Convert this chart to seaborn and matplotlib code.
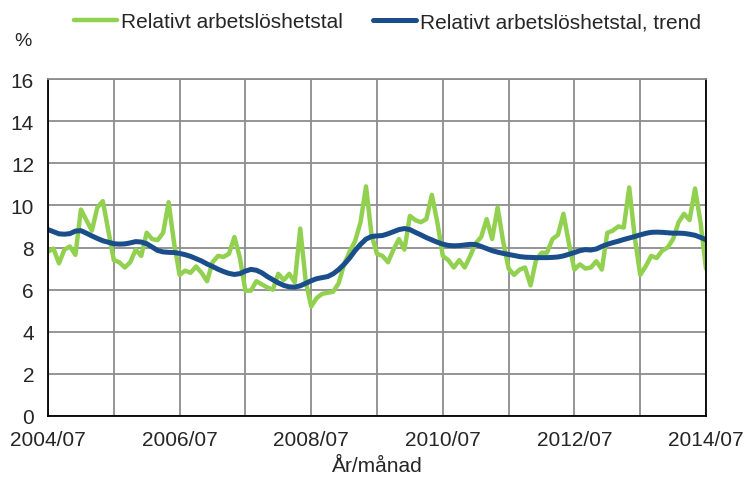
import numpy as np
import pandas as pd
import matplotlib
matplotlib.use("Agg")
from matplotlib import pyplot as plt
import seaborn as sns

# monthly unemployment rate, 2004/07 .. 2014/07 (one row per year)
rate = [7.8, 7.95, 7.25, 7.9, 8.05, 7.65, 9.8, 9.3, 8.8, 9.9, 10.2, 8.8,
        7.4, 7.3, 7.05, 7.3, 7.9, 7.6, 8.7, 8.4, 8.35, 8.7, 10.15, 8.2,
        6.7, 6.9, 6.8, 7.1, 6.8, 6.4, 7.3, 7.6, 7.55, 7.7, 8.5, 7.5,
        5.95, 5.95, 6.4, 6.25, 6.1, 6.0, 6.75, 6.45, 6.75, 6.35, 8.9, 6.4,
        5.2, 5.6, 5.8, 5.85, 5.9, 6.3, 7.2, 7.8, 8.3, 9.2, 10.9, 8.6,
        7.7, 7.6, 7.3, 7.9, 8.4, 7.9, 9.5, 9.3, 9.2, 9.35, 10.5, 9.2,
        7.6, 7.4, 7.05, 7.4, 7.05, 7.6, 8.2, 8.5, 9.35, 8.4, 9.9, 8.3,
        7.0, 6.7, 6.95, 7.05, 6.2, 7.4, 7.75, 7.75, 8.4, 8.6, 9.6, 8.2,
        6.95, 7.2, 7.0, 7.05, 7.35, 6.95, 8.7, 8.8, 9.0, 8.95, 10.85, 8.5,
        6.7, 7.1, 7.6, 7.5, 7.85, 8.0, 8.4, 9.2, 9.6, 9.3, 10.8, 9.2,
        7.0]

trend = [8.85, 8.75, 8.65, 8.63, 8.66, 8.78, 8.8, 8.68, 8.55, 8.43, 8.32, 8.25,
         8.18, 8.16, 8.17, 8.22, 8.28, 8.26, 8.18, 8.02, 7.86, 7.79, 7.77, 7.76,
         7.72, 7.66, 7.58, 7.47, 7.36, 7.22, 7.1, 6.97, 6.86, 6.77, 6.72, 6.76,
         6.88, 6.96, 6.92, 6.8, 6.62, 6.47, 6.32, 6.2, 6.13, 6.12, 6.18, 6.3,
         6.42, 6.52, 6.57, 6.62, 6.75, 6.95, 7.2, 7.5, 7.85, 8.15, 8.4, 8.52,
         8.55, 8.57, 8.65, 8.75, 8.85, 8.9, 8.85, 8.72, 8.6, 8.47, 8.36, 8.25,
         8.16, 8.1, 8.08, 8.09, 8.12, 8.15, 8.14, 8.05, 7.95, 7.85, 7.78, 7.72,
         7.67, 7.62, 7.57, 7.54, 7.53, 7.52, 7.52, 7.52, 7.53, 7.55, 7.6, 7.68,
         7.76, 7.85, 7.9, 7.88, 7.93, 8.05, 8.15, 8.23, 8.3, 8.38, 8.45, 8.52,
         8.6, 8.67, 8.72, 8.73, 8.72, 8.7, 8.68, 8.68, 8.67, 8.63, 8.58, 8.48,
         8.37]

x_labels = ['2004/07', '', '2006/07', '', '2008/07', '', '2010/07', '',
            '2012/07', '', '2014/07']
y_ticks = [0, 2, 4, 6, 8, 10, 12, 14, 16]

GREEN = '#92d050'
BLUE = '#1a4e8a'
GRID = '#8c8c8c'

sns.set_style('white')
plt.rcParams['font.family'] = ['Liberation Sans', 'DejaVu Sans']

df = pd.DataFrame({'month': np.arange(len(rate)), 'rate': rate, 'trend': trend})

fig = plt.figure(figsize=(7.45, 4.85), dpi=100)
ax = fig.add_axes([48/745, 68/485, 658/745, 337/485])

sns.lineplot(data=df, x='month', y='rate', color=GREEN, lw=3.2, ax=ax,
             label='Relativt arbetslöshetstal')
sns.lineplot(data=df, x='month', y='trend', color=BLUE, lw=3.6, ax=ax,
             label='Relativt arbetslöshetstal, trend')

ax.set_xlim(0, 120)
ax.set_ylim(0, 16)
ax.set_xticks(np.arange(0, 121, 12))
ax.set_xticklabels(x_labels)
ax.set_yticks(y_ticks)
ax.grid(True, color=GRID, lw=1.3)
ax.set_axisbelow(True)
for s in ['left', 'bottom', 'right']:
    ax.spines[s].set_color('black')
    ax.spines[s].set_linewidth(1.3)
ax.spines['top'].set_color(GRID)
ax.spines['top'].set_linewidth(1.3)
ax.tick_params(direction='out', length=6, width=1.2, color='black', labelsize=15, pad=4)
ax.set_xlabel('År/månad', fontsize=15, labelpad=5)
ax.set_ylabel('')
fig.text(14/745, 1 - 42/485, '%', fontsize=14, va='center', ha='left')

handles, labels = ax.get_legend_handles_labels()
ax.get_legend().remove()
fig.legend(handles, labels, loc='center', bbox_to_anchor=(0.52, 1 - 23/485), ncol=2,
           frameon=False, fontsize=15, handlelength=2.05, handletextpad=0.2, columnspacing=1.45)

fig.savefig('out.png', dpi=100)
